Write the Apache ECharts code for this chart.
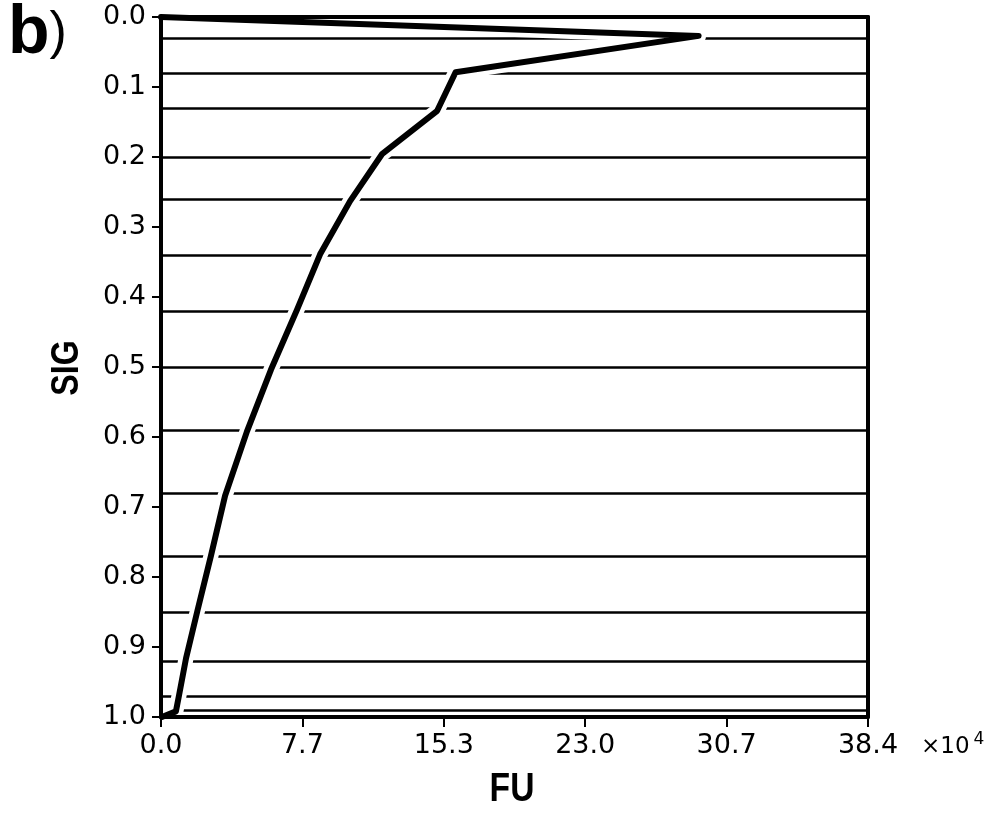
<!DOCTYPE html>
<html>
<head>
<meta charset="utf-8">
<style>
  html, body { margin: 0; padding: 0; background: #fff; }
  #chart { width: 992px; height: 816px; }
</style>
<script src="https://cdn.jsdelivr.net/npm/echarts@6/dist/echarts.min.js"></script>
</head>
<body>
<div id="chart"></div>
<script>
// Model sigma levels (horizontal reference lines)
const sigLevels = [0.027, 0.079, 0.134, 0.196, 0.263, 0.339, 0.418, 0.504,
                   0.592, 0.684, 0.769, 0.848, 0.916, 0.969, 0.992];

// FU profile: sigma coordinate and value (units of 10^4)
const profileSig = [0.0, 0.027, 0.079, 0.134, 0.196, 0.263, 0.339, 0.418, 0.504,
                    0.592, 0.684, 0.769, 0.848, 0.916, 0.969, 0.992, 1.0];
const profileFU  = [0.0, 29.2, 16.0, 15.0, 12.0, 10.27, 8.64, 7.39, 5.97,
                    4.67, 3.48, 2.72, 1.98, 1.36, 0.98, 0.81, 0.05];

// Axis tick labels
const xTickLabels = ['0.0', '7.7', '15.3', '23.0', '30.7', '38.4'];
const yTickLabels = ['0.0', '0.1', '0.2', '0.3', '0.4', '0.5', '0.6', '0.7', '0.8', '0.9', '1.0'];

const profileData = profileFU.map((v, i) => [v, profileSig[i]]);

const labelFont = 'DejaVu Sans';
const chart = echarts.init(document.getElementById('chart'), null, { renderer: 'canvas' });

chart.setOption({
  animation: false,
  backgroundColor: '#ffffff',
  grid: { left: 161, right: 124, top: 17, bottom: 99 },
  xAxis: [
    {
      type: 'value', position: 'bottom', min: 0, max: 38.4, interval: 7.68, z: 10,
      axisLine: { show: true, onZero: false, lineStyle: { color: '#000', width: 4 } },
      axisTick: { show: true, inside: false, length: 10, lineStyle: { color: '#000', width: 2 } },
      axisLabel: {
        margin: 15, color: '#000', fontFamily: labelFont, fontSize: 27,
        formatter: (v, i) => xTickLabels[i]
      },
      splitLine: { show: false }
    },
    {
      type: 'value', position: 'top', min: 0, max: 38.4, interval: 7.68, z: 10,
      axisLine: { show: true, onZero: false, lineStyle: { color: '#000', width: 4 } },
      axisTick: { show: false }, axisLabel: { show: false }, splitLine: { show: false }
    }
  ],
  yAxis: [
    {
      type: 'value', position: 'left', inverse: true, min: 0, max: 1, interval: 0.1, z: 10,
      axisLine: { show: true, onZero: false, lineStyle: { color: '#000', width: 4 } },
      axisTick: { show: true, inside: false, length: 9, lineStyle: { color: '#000', width: 2 } },
      axisLabel: {
        margin: 15, color: '#000', fontFamily: labelFont, fontSize: 27,
        formatter: (v, i) => yTickLabels[i]
      },
      splitLine: { show: false }
    },
    {
      type: 'value', position: 'right', inverse: true, min: 0, max: 1, interval: 0.1, z: 10,
      axisLine: { show: true, onZero: false, lineStyle: { color: '#000', width: 4 } },
      axisTick: { show: false }, axisLabel: { show: false }, splitLine: { show: false }
    }
  ],
  series: [
    {
      // sigma level lines
      name: 'levels', type: 'line', data: [], z: 1, silent: true,
      markLine: {
        z: 1, silent: true, symbol: 'none', animation: false,
        label: { show: false },
        lineStyle: { color: '#000', width: 2.6, type: 'solid' },
        emphasis: { disabled: true },
        data: sigLevels.map(s => ({ yAxis: s }))
      }
    },
    {
      // white halo that breaks the level lines where the profile crosses them
      name: 'halo', type: 'line', data: profileData, z: 6, silent: true,
      showSymbol: false, symbol: 'none',
      lineStyle: { color: '#fff', width: 15, cap: 'round', join: 'round' }
    },
    {
      name: 'FU', type: 'line', data: profileData, z: 7, silent: true,
      showSymbol: false, symbol: 'none',
      lineStyle: { color: '#000', width: 6, cap: 'round', join: 'round' }
    }
  ],
  graphic: [
    {
      type: 'text', left: 8, top: 0, z: 20,
      style: {
        text: '{b|b}{p|)}', fill: '#000',
        rich: {
          b: { fontFamily: 'Liberation Sans', fontWeight: 'bold', fontSize: 68, fill: '#000' },
          p: { fontFamily: 'Liberation Sans', fontWeight: 'normal', fontSize: 52, fill: '#000' }
        }
      }
    },
    {
      type: 'text', x: 512, y: 790, z: 20, scaleX: 0.82,
      style: {
        text: 'FU', fill: '#000', align: 'center', verticalAlign: 'middle',
        fontFamily: 'Liberation Sans', fontWeight: 'bold', fontSize: 41
      }
    },
    {
      type: 'text', x: 68, y: 368, z: 20, rotation: Math.PI / 2, scaleX: 0.85,
      style: {
        text: 'SIG', fill: '#000', align: 'center', verticalAlign: 'middle',
        fontFamily: 'Liberation Sans', fontWeight: 'bold', fontSize: 38
      }
    },
    {
      type: 'text', x: 921, y: 747, z: 20,
      style: {
        text: '×10{s|4}', fill: '#000', verticalAlign: 'middle',
        fontFamily: labelFont, fontSize: 23,
        rich: { s: { fontFamily: labelFont, fontSize: 17, verticalAlign: 'top', padding: [0, 0, 14, 4] } }
      }
    }
  ]
});
</script>
</body>
</html>
